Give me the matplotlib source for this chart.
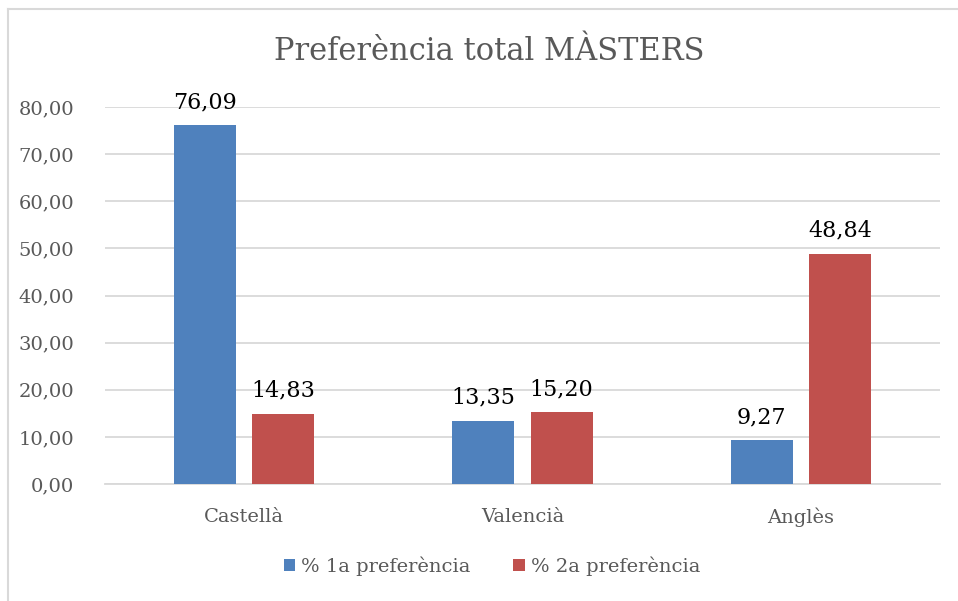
import matplotlib
matplotlib.use("Agg")
import matplotlib.pyplot as plt
from matplotlib.lines import Line2D
import numpy as np

categories = ["Castellà", "Valencià", "Anglès"]
series_names = ["% 1a preferència", "% 2a preferència"]
values_1a = [76.09, 13.35, 9.27]
values_2a = [14.83, 15.20, 48.84]
yticks = [0, 10, 20, 30, 40, 50, 60, 70, 80]

plt.rcParams['font.family'] = ['DejaVu Serif']

W, H = 958, 601
fig = plt.figure(figsize=(W / 100, H / 100), dpi=100)
# chart border (only left and top visible, as in the reference)
fig.add_artist(Line2D([7.5 / W, 1.0], [1 - 8.5 / H, 1 - 8.5 / H], transform=fig.transFigure,
                      color="#D9D9D9", linewidth=1.5))
fig.add_artist(Line2D([7.5 / W, 7.5 / W], [0.0, 1 - 8.5 / H], transform=fig.transFigure,
                      color="#D9D9D9", linewidth=1.5))

ax = fig.add_axes([105 / W, 1 - 484 / H, 835 / W, (484 - 107) / H])

x = np.arange(len(categories))
w = 0.223
off = (w + 0.058) / 2
b1 = ax.bar(x - off, values_1a, w, color="#4F81BD", label=series_names[0], zorder=3)
b2 = ax.bar(x + off, values_2a, w, color="#C0504D", label=series_names[1], zorder=3)

def fmt(v):
    return f"{v:.2f}".replace(".", ",")

for bars, vals in ((b1, values_1a), (b2, values_2a)):
    for r, v in zip(bars, vals):
        ax.text(r.get_x() + r.get_width() / 2, v + 2.6, fmt(v), ha="center", va="bottom",
                fontsize=16, color="black")

ax.set_xlim(-0.5, 2.5)
ax.set_ylim(0, 80)
ax.set_yticks(yticks)
ax.set_yticklabels([fmt(t) for t in yticks], fontsize=14, color="#595959")
ax.set_xticks(x)
ax.set_xticklabels(categories, fontsize=14, color="#595959")
ax.tick_params(axis="y", length=0, pad=22)
ax.tick_params(axis="x", length=0, pad=17)
ax.grid(axis="y", color="#D9D9D9", linewidth=1.3, zorder=0)
for s in ("top", "right", "left"):
    ax.spines[s].set_visible(False)
ax.spines["bottom"].set_color("#D9D9D9")
ax.spines["bottom"].set_linewidth(1.3)
ax.set_axisbelow(True)

fig.text(489 / W, 1 - 52 / H, "Preferència total MÀSTERS", ha="center", va="center",
         fontsize=22, color="#595959")

fig.legend(handles=[b1, b2], labels=series_names, loc="center", bbox_to_anchor=(492 / W, 1 - 566 / H),
           ncol=2, frameon=False, fontsize=14, labelcolor="#595959", handlelength=0.6,
           handleheight=0.6, handletextpad=0.3, columnspacing=2.2)

fig.savefig("out.png", dpi=100)
